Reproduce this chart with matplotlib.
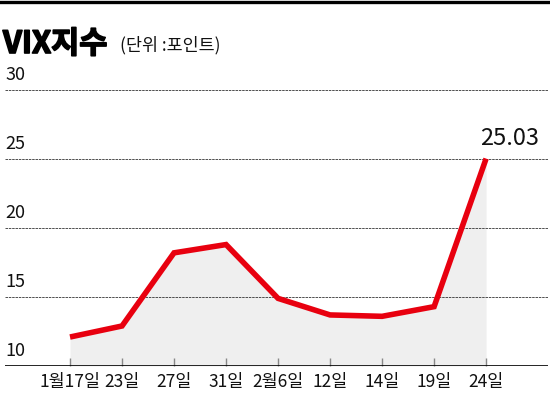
import matplotlib
matplotlib.use("Agg")
import matplotlib.pyplot as plt
from matplotlib.lines import Line2D
import matplotlib.patheffects as pe

plt.rcParams['font.family'] = ['Noto Sans CJK KR', 'DejaVu Sans']

categories = ['1월17일', '23일', '27일', '31일', '2월6일', '12일', '14일', '19일', '24일']
values = [12.1, 12.9, 18.2, 18.8, 14.9, 13.7, 13.6, 14.3, 25.03]
yticks = [10, 15, 20, 25, 30]
title = 'VIX지수'
unit = '(단위 :포인트)'
peak_label = '25.03'

fig = plt.figure(figsize=(5.5, 3.96), dpi=100)
W, H = 550, 396

# top black bar
fig.add_artist(Line2D([0, 1], [1 - 1.5 / H, 1 - 1.5 / H], color='black', lw=2.4,
                      transform=fig.transFigure))

ax = fig.add_axes([5 / W, 1 - 366 / H, 543 / W, (366 - 90) / H])
x = list(range(len(values)))
ax.set_xlim(-1.25, 9.19)
ax.set_ylim(10, 30)

ax.fill_between(x, values, 10, color='#efefef', zorder=1, lw=0)
for yv in yticks[1:]:
    ax.axhline(yv, color='#333333', lw=0.6, ls=(0, (3, 1)), zorder=2)
ax.plot(x, values, color='#e8000f', lw=4.0, solid_joinstyle='miter',
        solid_capstyle='butt', zorder=4)
ax.axhline(10, color='black', lw=1.2, zorder=5)

for s in ax.spines.values():
    s.set_visible(False)
ax.set_yticks([])
ax.set_xticks(x)
ax.set_xticklabels(categories, fontsize=12.5, color='#111111', fontweight='medium')
ax.tick_params(axis='x', direction='in', length=6, width=1.0, color='#888888', pad=5)

for yv in yticks:
    ax.text(0.0, yv + 0.45, str(yv), transform=ax.get_yaxis_transform(),
            fontsize=13, ha='left', va='bottom', color='#111111', fontweight='medium')

ax.annotate(peak_label, (x[-1], values[-1]), xytext=(17, 6), textcoords='offset points',
            ha='center', va='bottom', fontsize=17, color='#111111', fontweight='medium',
            annotation_clip=False)

fig.text(3 / W, 1 - 53 / H, title, fontsize=22, fontweight='black', ha='left', va='baseline',
         path_effects=[pe.withStroke(linewidth=1.2, foreground='black')])
fig.text(120 / W, 1 - 50 / H, unit, fontsize=12.5, ha='left', va='baseline', color='#111111')

fig.savefig('out.png', dpi=100)
